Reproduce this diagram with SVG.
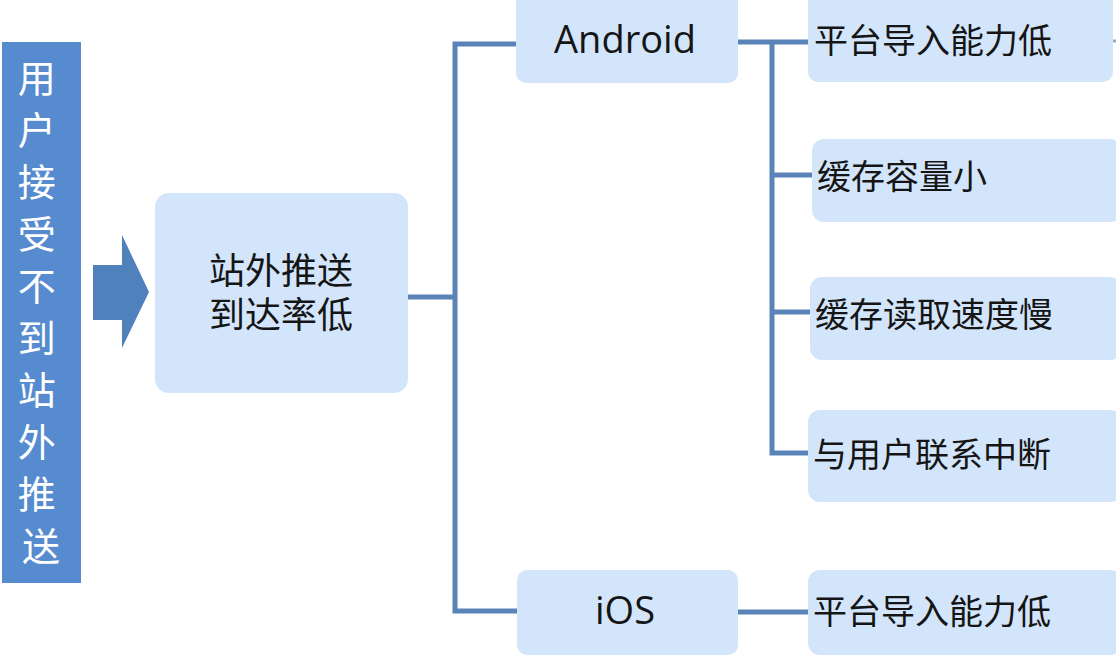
<svg xmlns="http://www.w3.org/2000/svg" width="1116" height="672" viewBox="0 0 1116 672">
<style>
.box{fill:#d3e5fb;}
.t{font-family:"Noto Sans CJK SC","Noto Sans",sans-serif;fill:#151515;}
.en{font-family:"Open Sans","Liberation Sans",sans-serif;fill:#151515;}
.c{fill:none;stroke:#5a84b8;stroke-width:5;stroke-linejoin:miter;}
.side{font-family:"Noto Sans CJK SC",sans-serif;fill:#ffffff;font-size:38px;}
</style>
<rect width="1116" height="672" fill="#ffffff"/>
<g id="title">
<rect x="2" y="42" width="79" height="541" fill="#568bd0"/>
<text class="side" text-anchor="middle">
<tspan x="41" y="92">用</tspan>
<tspan x="41" y="144">户</tspan>
<tspan x="41" y="196">接</tspan>
<tspan x="41" y="248">受</tspan>
<tspan x="41" y="300">不</tspan>
<tspan x="41" y="352">到</tspan>
<tspan x="41" y="404">站</tspan>
<tspan x="41" y="456">外</tspan>
<tspan x="41" y="508">推</tspan>
<tspan x="41" y="560">送</tspan>
</text>
</g>
<g id="arrow">
<polygon points="93,265 122,265 122,235 149,292 122,348 122,320 93,320" fill="#4f81bd"/>
</g>
<g id="root">
<rect class="box" x="155" y="193" width="253" height="200" rx="14"/>
<text class="t" font-size="36" text-anchor="middle"><tspan x="281" y="284">站外推送</tspan><tspan x="281" y="328">到达率低</tspan></text>
</g>
<g id="android">
<rect class="box" x="516" y="-8" width="222" height="91" rx="10"/>
<text class="en" font-size="38" x="625" y="53" text-anchor="middle">Android</text>
</g>
<g id="ios">
<rect class="box" x="517" y="570" width="221" height="85" rx="10"/>
<text class="en" font-size="38" x="625" y="624" text-anchor="middle">iOS</text>
</g>
<g id="a1">
<rect class="box" x="808" y="-8" width="305" height="90" rx="10"/>
<text class="t" font-size="34" x="814" y="53">平台导入能力低</text>
</g>
<g id="a2">
<rect class="box" x="812" y="139" width="310" height="83" rx="12"/>
<text class="t" font-size="34" x="817" y="189">缓存容量小</text>
</g>
<g id="a3">
<rect class="box" x="810" y="277" width="312" height="83" rx="12"/>
<text class="t" font-size="34" x="815" y="327">缓存读取速度慢</text>
</g>
<g id="a4">
<rect class="box" x="808" y="410" width="314" height="92" rx="12"/>
<text class="t" font-size="34" x="813" y="467">与用户联系中断</text>
</g>
<g id="i1">
<rect class="box" x="808" y="570" width="314" height="85" rx="12"/>
<text class="t" font-size="34" x="813" y="624">平台导入能力低</text>
</g>
<g id="connectors">
<path class="c" d="M408,297 H455"/>
<path class="c" d="M516,44 H455 V611 H517"/>
<path class="c" d="M738,42 H808"/>
<path class="c" d="M772,42 V453 H808"/>
<path class="c" d="M772,175 H812"/>
<path class="c" d="M770,312 H810"/>
<path class="c" d="M738,612 H808"/>
<path d="M1113,41 H1116" stroke="#9aa8b8" stroke-width="3"/>
</g>
</svg>
